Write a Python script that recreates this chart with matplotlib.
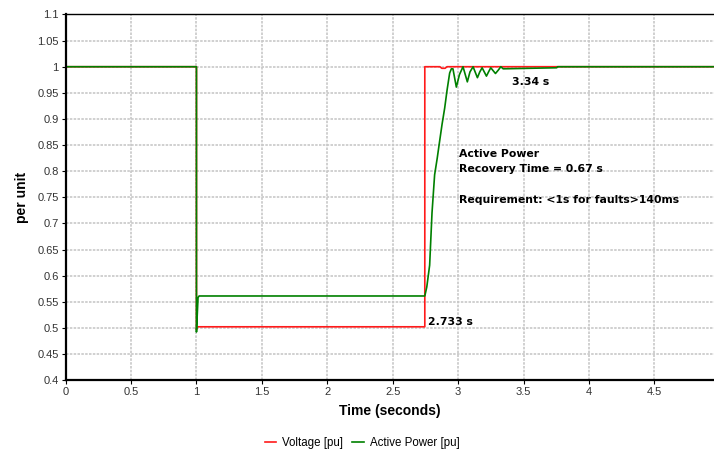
import matplotlib.pyplot as plt

# voltage trace [pu]
time_v = [0, 1.0, 1.0, 1.006, 2.745, 2.745, 2.86, 2.875, 2.90, 2.915, 5.0]
voltage = [1.0, 1.0, 0.497, 0.502, 0.502, 1.0, 1.0, 0.997, 0.997, 1.0, 1.0]

# active power trace [pu]
time_p = [0, 1.0, 1.0, 1.012, 1.02, 2.745, 2.76, 2.782, 2.80, 2.820, 2.84,
          2.858, 2.877, 2.897, 2.915, 2.935, 2.948, 2.96, 2.986, 3.01, 3.037,
          3.07, 3.09, 3.114, 3.147, 3.165, 3.183, 3.216, 3.232, 3.249, 3.285,
          3.305, 3.326, 3.344, 3.753, 3.76, 5.0]
power = [1.0, 1.0, 0.492, 0.558, 0.561, 0.561, 0.578, 0.620, 0.72, 0.793, 0.825,
         0.857, 0.89, 0.921, 0.955, 0.988, 0.996, 0.996, 0.961, 0.985, 1.0,
         0.971, 0.99, 1.0, 0.979, 0.99, 0.998, 0.982, 0.99, 0.998, 0.987,
         0.993, 1.0, 0.996, 0.998, 1.0, 1.0]

fig = plt.figure(figsize=(7.14, 4.53), dpi=100)
ax = fig.add_axes([0.0919, 0.161, 0.909, 0.807])

ax.plot(time_v, voltage, color="#ff1a1a", lw=1.2, label="Voltage [pu]")
ax.plot(time_p, power, color="#008000", lw=1.2, label="Active Power [pu]")

ax.set_xlim(0, 4.96)
ax.set_ylim(0.4, 1.1)
ax.set_xticks([0, 0.5, 1, 1.5, 2, 2.5, 3, 3.5, 4, 4.5])
ax.set_xticklabels(["0", "0.5", "1", "1.5", "2", "2.5", "3", "3.5", "4", "4.5"])
yt = [0.4, 0.45, 0.5, 0.55, 0.6, 0.65, 0.7, 0.75, 0.8, 0.85, 0.9, 0.95, 1.0, 1.05, 1.1]
ax.set_yticks(yt)
ax.set_yticklabels(["0.4", "0.45", "0.5", "0.55", "0.6", "0.65", "0.7", "0.75", "0.8",
                    "0.85", "0.9", "0.95", "1", "1.05", "1.1"])
ax.tick_params(labelsize=8, length=3, width=0.8, pad=2)
for lab in ax.get_xticklabels() + ax.get_yticklabels():
    lab.set_family("Liberation Sans")
    lab.set_color("#333333")

ax.grid(True, color="#c8c8c8", ls="--", lw=1.2, dashes=(1.5, 0.8))
ax.set_axisbelow(True)
ax.spines["left"].set_linewidth(1.6)
ax.spines["bottom"].set_linewidth(1.6)
ax.spines["top"].set_linewidth(1.0)
ax.spines["right"].set_visible(False)

ax.set_xlabel("Time (seconds)", fontsize=10, fontweight="bold",
              family="Liberation Sans", labelpad=5)
ax.set_ylabel("per unit", fontsize=10, fontweight="bold",
              family="Liberation Sans", labelpad=6)

ax.text(3.41, 0.971, "3.34 s", fontsize=7.8, fontweight="bold", va="center")
ax.text(2.77, 0.511, "2.733 s", fontsize=7.8, fontweight="bold", va="center")
ax.text(3.009, 0.833, "Active Power", fontsize=7.8, fontweight="bold", va="center")
ax.text(3.009, 0.804, "Recovery Time = 0.67 s", fontsize=7.8, fontweight="bold", va="center")
ax.text(3.009, 0.745, "Requirement: <1s for faults>140ms", fontsize=7.8,
        fontweight="bold", va="center")

leg = fig.legend(loc="center", bbox_to_anchor=(0.507, 0.022), ncol=2, frameon=False,
                 prop={"family": "Liberation Sans", "size": 8.3}, handlelength=1.0,
                 handletextpad=0.5, columnspacing=0.8)

fig.savefig("out.png", dpi=100)
